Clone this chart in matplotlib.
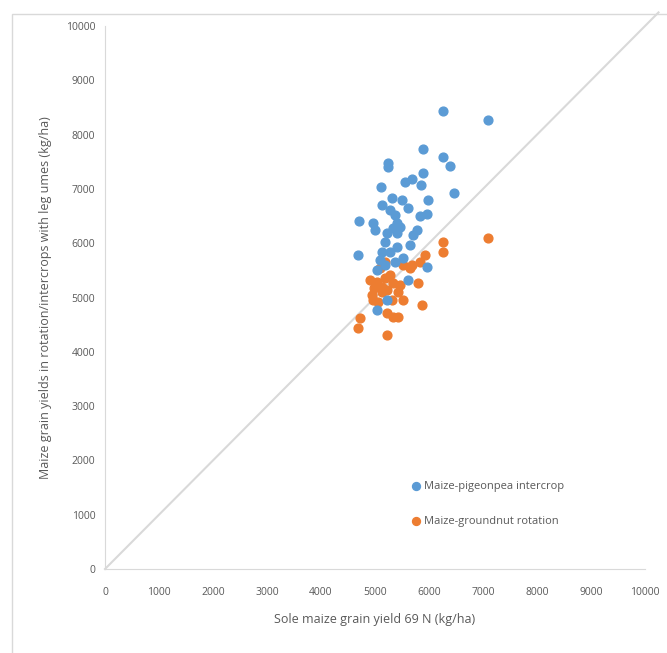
import numpy as np
import matplotlib
matplotlib.use('Agg')
import matplotlib.pyplot as plt
from matplotlib.patches import Rectangle

# maize-pigeonpea intercrop (x = sole maize, y = intercrop)
pp_x = [6259, 7093, 5889, 5241, 5241, 6259, 6389, 5889, 5685, 5556, 5852, 5111,
        6463, 5315, 5130, 5500, 5981, 5278, 5611, 5833, 5963, 4704, 4963, 5407,
        5000, 5222, 5407, 5778, 5704, 4685, 5333, 5185, 5407, 5278, 5648, 5037,
        5963, 5611, 5222, 5037, 5130, 5463, 5185, 5370, 5093, 5519, 5370]
pp_y = [8435, 8269, 7735, 7477, 7400, 7587, 7422, 7293, 7182, 7127, 7072, 7035,
        6924, 6832, 6703, 6796, 6796, 6611, 6648, 6501, 6538, 6409, 6372, 6372,
        6243, 6188, 6188, 6243, 6151, 5783, 6280, 6022, 5930, 5838, 5967, 5506,
        5562, 5322, 4954, 4770, 5838, 6298, 5599, 6519, 5691, 5727, 5654]

# maize-groundnut rotation
gn_x = [7093, 6259, 6259, 5926, 5833, 5519, 5648, 5185, 5037, 5130, 5333, 5426,
        4944, 4963, 5130, 5519, 5796, 5870, 5222, 5333, 5426, 4722, 4685, 5222,
        4907, 5278, 5222, 5315, 5056, 5185, 5463, 4981, 5685, 5093]
gn_y = [6096, 6022, 5838, 5783, 5654, 5599, 5543, 5654, 5285, 5193, 5267, 5101,
        5046, 4954, 5101, 4954, 5267, 4862, 4715, 4641, 4641, 4622, 4438, 4309,
        5322, 5414, 5138, 4954, 4917, 5359, 5230, 5175, 5599, 5543]

ticks = np.arange(0, 10001, 1000)

plt.rcParams['font.family'] = ['Open Sans', 'DejaVu Sans']
grey = '#595959'

fig = plt.figure(figsize=(6.67, 6.53), dpi=100)
ax = fig.add_axes([105/667, 1-569/653, 540/667, 543/653])

ax.plot([0, 10250], [0, 10250], color='#d9d9d9', lw=1.5, clip_on=False, zorder=1)
ax.scatter(pp_x, pp_y, s=40, color='#5b9bd5', label='Maize-pigeonpea intercrop', zorder=3)
ax.scatter(gn_x, gn_y, s=40, color='#ed7d31', label='Maize-groundnut rotation', zorder=2)

ax.set_xlim(0, 10000)
ax.set_ylim(0, 10000)
ax.set_xticks(ticks)
ax.set_yticks(ticks)
ax.tick_params(length=0, labelsize=7.5, labelcolor=grey)
ax.tick_params(axis='x', pad=13)
ax.tick_params(axis='y', pad=7)
for s in ['top', 'right']:
    ax.spines[s].set_visible(False)
for s in ['left', 'bottom']:
    ax.spines[s].set_color('#d9d9d9')

ax.set_xlabel('Sole maize grain yield 69 N (kg/ha)', fontsize=9, color=grey, labelpad=11)
ax.set_ylabel('Maize grain yields in rotation/intercrops with leg umes (kg/ha)',
              fontsize=9, color=grey, labelpad=10)

leg = ax.legend(loc='center left', bbox_to_anchor=(0.545, 0.12), frameon=False,
                fontsize=8, labelcolor=grey, labelspacing=2.2, handletextpad=0.1,
                handlelength=1.2, markerscale=0.9)

fig.patches.append(Rectangle((12/667, -0.01), 1.0, 1-14/653+0.01, transform=fig.transFigure,
                             fill=False, edgecolor='#d9d9d9', lw=1))

plt.savefig('out.png', dpi=100)
